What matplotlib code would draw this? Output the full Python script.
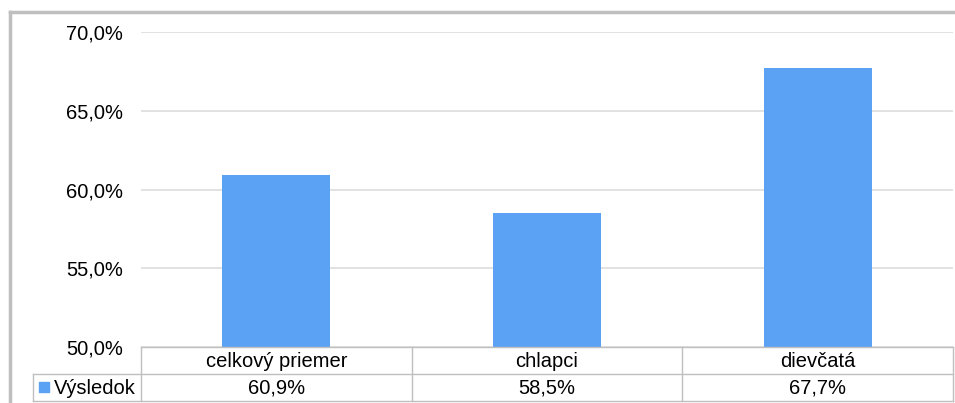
import matplotlib.pyplot as plt
from matplotlib.lines import Line2D
from matplotlib.patches import Rectangle

categories = ["celkový priemer", "chlapci", "dievčatá"]
values = [60.9, 58.5, 67.7]
value_labels = ["60,9%", "58,5%", "67,7%"]
series_name = "Výsledok"
yticks = [50, 55, 60, 65, 70]
ytick_labels = ["50,0%", "55,0%", "60,0%", "65,0%", "70,0%"]

W, H = 955, 403
bar_color = "#5BA1F4"
grid_color = "#DDDDDD"
table_color = "#BFBFBF"
font = "Liberation Sans"
fs = 14.5

plt.rcParams["font.family"] = [font, "DejaVu Sans"]

fig = plt.figure(figsize=(W / 100, H / 100), dpi=100)

# plot area in pixels
x0, x1 = 141, 953
y_top, y_bot = 32, 347
ax = fig.add_axes([x0 / W, (H - y_bot) / H, (x1 - x0) / W, (y_bot - y_top) / H])

x = list(range(len(categories)))
ax.bar(x, values, width=0.4, color=bar_color, zorder=3)
ax.set_xlim(-0.5, len(categories) - 0.5)
ax.set_ylim(50, 70)
ax.set_yticks(yticks)
ax.set_yticklabels(ytick_labels, fontsize=fs, color="#000000")
ax.tick_params(axis="y", length=0, pad=13)
ax.set_xticks([])
for s in ax.spines.values():
	s.set_visible(False)
ax.grid(axis="y", color=grid_color, linewidth=1.2, zorder=0)

# overlay in pixel coords for the table and outer frame
ov = fig.add_axes([0, 0, 1, 1])
ov.set_xlim(0, W)
ov.set_ylim(H, 0)
ov.axis("off")
ov.patch.set_alpha(0)

# outer frame (left and top)
ov.add_line(Line2D([10, 10], [12, H], color="#BFBFBF", lw=2.5))
ov.add_line(Line2D([10, W], [12, 12], color="#BFBFBF", lw=2.5))

# data table
r0, r1, r2 = 347, 374, 401
lab_x = 33
ncol = len(categories)
col_w = (x1 - x0) / ncol
lines = [
	([x0, x1], [r0, r0]),
	([lab_x, x1], [r1, r1]),
	([lab_x, x1], [r2, r2]),
	([lab_x, lab_x], [r1, r2]),
]
for i in range(ncol + 1):
	xi = x0 + i * col_w
	lines.append(([xi, xi], [r0, r2]))
for xs, ys in lines:
	ov.add_line(Line2D(xs, ys, color=table_color, lw=1))

for i, (cat, lab) in enumerate(zip(categories, value_labels)):
	cx = x0 + (i + 0.5) * col_w
	ov.text(cx, (r0 + r1) / 2 + 1, cat, ha="center", va="center", fontsize=fs)
	ov.text(cx, (r1 + r2) / 2 + 1, lab, ha="center", va="center", fontsize=fs)

ov.add_patch(Rectangle((39, 382), 10, 10, color=bar_color))
ov.text(54, (r1 + r2) / 2 + 1, series_name, ha="left", va="center", fontsize=fs)

fig.savefig("out.png", dpi=100)
